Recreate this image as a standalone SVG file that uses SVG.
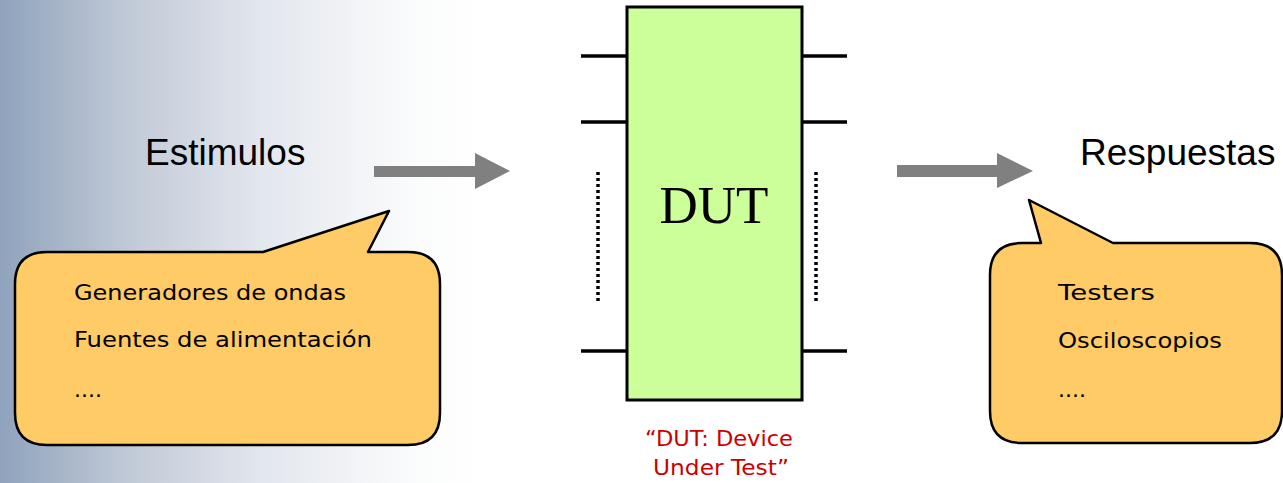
<svg xmlns="http://www.w3.org/2000/svg" width="1283" height="483" viewBox="0 0 1283 483">
<defs>
<linearGradient id="bg" x1="0" y1="0" x2="1" y2="0">
<stop offset="0" stop-color="#8fa3bc"/>
<stop offset="0.28" stop-color="#c3cbd8"/>
<stop offset="0.55" stop-color="#e3e7ee"/>
<stop offset="0.85" stop-color="#fafbfc"/>
<stop offset="1" stop-color="#ffffff"/>
</linearGradient>
<style>
.lbl{font-family:"Liberation Sans",Arial,sans-serif;font-size:37px;fill:#000}
.ct{font-family:"DejaVu Sans",sans-serif;font-size:22px;fill:#000}
.red{font-family:"DejaVu Sans",sans-serif;font-size:21px;fill:#cc0000;text-anchor:middle}
.bub{fill:#fecb66;stroke:#000;stroke-width:2.5;stroke-linejoin:round}
.pin{stroke:#000;stroke-width:3.5;fill:none}
.dot{stroke:#000;stroke-width:3.5;stroke-dasharray:3 3;fill:none}
.arr{fill:#808080}
</style>
</defs>
<rect x="0" y="0" width="480" height="483" fill="url(#bg)"/>

<g id="estimulos"><text class="lbl" x="145" y="165">Estimulos</text></g>
<g id="respuestas"><text class="lbl" x="1080" y="165">Respuestas</text></g>

<g id="connectors">
<polygon class="arr" points="374,166 475,166 475,153 510,171 475,189 475,177 374,177"/>
<polygon class="arr" points="897,165 997,165 997,153 1033,171 997,188 997,177 897,177"/>
</g>

<g id="dut">
<line class="pin" x1="581" y1="56" x2="626" y2="56"/>
<line class="pin" x1="581" y1="122" x2="626" y2="122"/>
<line class="pin" x1="581" y1="351" x2="626" y2="351"/>
<line class="pin" x1="802" y1="56" x2="847" y2="56"/>
<line class="pin" x1="802" y1="122" x2="847" y2="122"/>
<line class="pin" x1="802" y1="351" x2="847" y2="351"/>
<line class="dot" x1="598" y1="172" x2="598" y2="302"/>
<line class="dot" x1="816" y1="172" x2="816" y2="302"/>
<rect x="627" y="7" width="175" height="393" fill="#ccff99" stroke="#000" stroke-width="3"/>
<text x="714" y="223" font-family="Liberation Serif,'Times New Roman',serif" font-size="53" text-anchor="middle">DUT</text>
</g>

<g id="dut-caption">
<text class="red" x="719" y="446" textLength="148" lengthAdjust="spacingAndGlyphs">“DUT: Device</text>
<text class="red" x="721" y="475" textLength="136" lengthAdjust="spacingAndGlyphs">Under Test”</text>
</g>

<g id="callout-left">
<path class="bub" d="M47,252 L263,252 L389,211 L368,252 L408,252 Q440,252 440,284 L440,413 Q440,445 408,445 L47,445 Q15,445 15,413 L15,284 Q15,252 47,252 Z"/>
<text class="ct" x="74" y="300" textLength="272" lengthAdjust="spacingAndGlyphs">Generadores de ondas</text>
<text class="ct" x="74" y="347" textLength="298" lengthAdjust="spacingAndGlyphs">Fuentes de alimentación</text>
<text class="ct" x="74" y="397">....</text>
</g>

<g id="callout-right">
<path class="bub" d="M1022,243 L1041,243 L1029,200 L1113,243 L1250,243 Q1282,243 1282,275 L1282,411 Q1282,443 1250,443 L1022,443 Q990,443 990,411 L990,275 Q990,243 1022,243 Z"/>
<text class="ct" x="1058" y="300" textLength="97" lengthAdjust="spacingAndGlyphs">Testers</text>
<text class="ct" x="1058" y="348" textLength="164" lengthAdjust="spacingAndGlyphs">Osciloscopios</text>
<text class="ct" x="1058" y="397">....</text>
</g>
</svg>
